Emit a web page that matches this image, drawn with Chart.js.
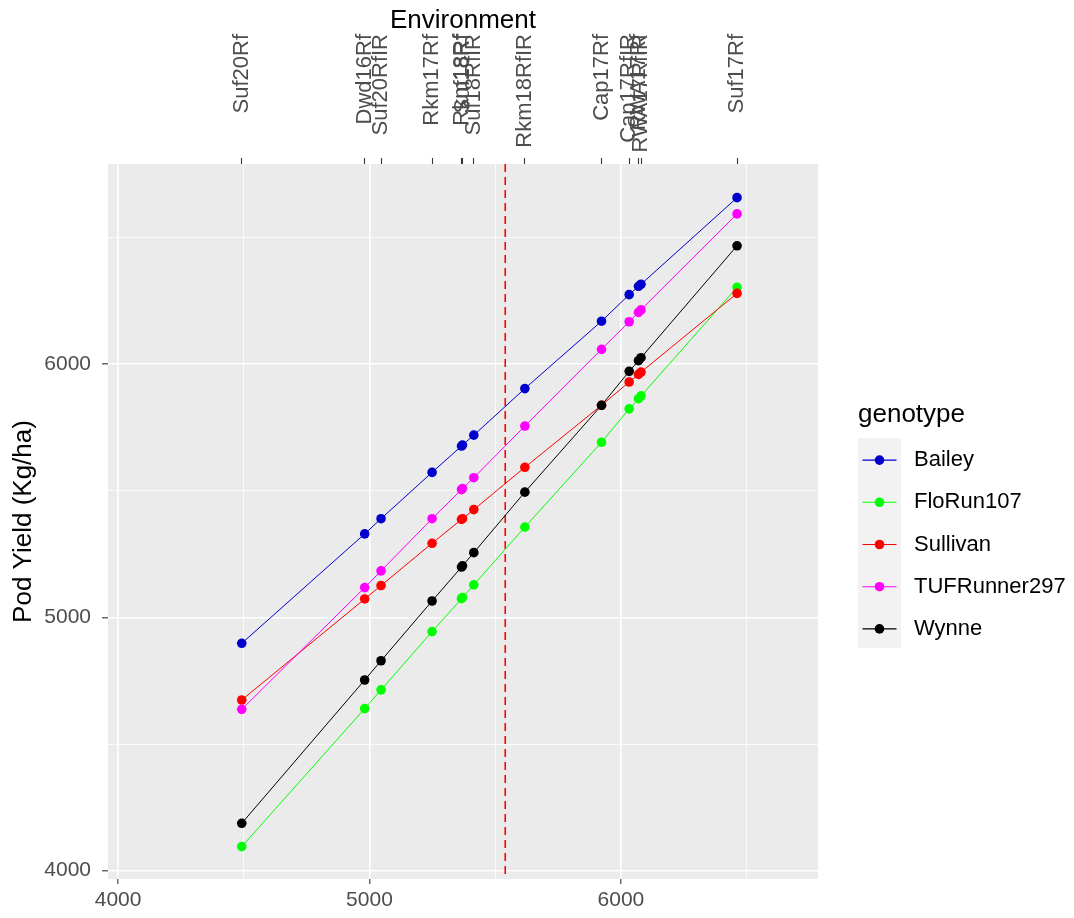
<!DOCTYPE html>
<html>
<head>
<meta charset="utf-8">
<script src="https://cdn.jsdelivr.net/npm/chart.js@4/dist/chart.umd.min.js"></script>
<style>
  html, body { margin: 0; padding: 0; background: #ffffff; }
  canvas { display: block; }
</style>
</head>
<body>
<canvas id="c" width="1074" height="918"></canvas>
<script>
// ---- data ----
const envLabels = ["Suf20Rf","Dwd16Rf","Suf20RfIR","Rkm17Rf","Rkm18Rf","Suf18Rf","Suf18RfIR","Rkm18RfIR","Cap17Rf","Cap17RfIR","RWA17Rf","RWA17RfIR","Suf17Rf"];
const envX      = [4492, 4981, 5046, 5249, 5366, 5370, 5415, 5618, 5923, 6033, 6070, 6080, 6462];
const genotypes = ["Bailey","FloRun107","Sullivan","TUFRunner297","Wynne"];
const bailey    = [4898, 5330, 5390, 5573, 5677, 5681, 5720, 5904, 6170, 6275, 6308, 6316, 6658];
const floRun107 = [4095, 4640, 4714, 4944, 5074, 5079, 5129, 5357, 5692, 5824, 5864, 5875, 6304];
const sullivan  = [4674, 5073, 5126, 5293, 5387, 5390, 5426, 5593, 5838, 5930, 5960, 5969, 6280];
const tufRunner = [4637, 5118, 5184, 5390, 5505, 5509, 5552, 5756, 6059, 6168, 6205, 6215, 6594];
const wynne     = [4187, 4753, 4829, 5065, 5199, 5204, 5256, 5495, 5838, 5972, 6014, 6026, 6468];
const grandMean = 5540;
const xTickValues = [4000, 4500, 5000, 5500, 6000, 6500];
const yTickValues = [4000, 4500, 5000, 5500, 6000, 6500];
const xRange = [3960, 6784];
const yRange = [3967, 6791];

const seriesValues = [bailey, floRun107, sullivan, tufRunner, wynne];
const seriesColors = ["#0000CD", "#00FF00", "#FF0000", "#FF00FF", "#000000"];

const FONT = "'Liberation Sans', Arial, Helvetica, sans-serif";

const datasets = genotypes.map((g, gi) => ({
  label: g,
  data: envX.map((x, i) => ({ x: x, y: seriesValues[gi][i] })),
  borderColor: seriesColors[gi],
  backgroundColor: seriesColors[gi],
  pointBackgroundColor: seriesColors[gi],
  pointBorderWidth: 0,
  pointRadius: 4.8,
  borderWidth: 1.0,
  tension: 0,
  fill: false,
  order: genotypes.length - gi
}));

const isMajor = v => v % 1000 === 0;

const panelBg = {
  id: 'panelBg',
  beforeDraw(chart) {
    const { ctx, chartArea: a } = chart;
    ctx.save();
    ctx.fillStyle = '#EBEBEB';
    ctx.fillRect(a.left, a.top, a.right - a.left, a.bottom - a.top);
    ctx.restore();
  }
};

const meanLine = {
  id: 'meanLine',
  beforeDatasetsDraw(chart) {
    const { ctx, chartArea: a } = chart;
    const px = chart.scales.x.getPixelForValue(grandMean);
    ctx.save();
    ctx.strokeStyle = '#FF0000';
    ctx.lineWidth = 1.6;
    ctx.setLineDash([8, 5]);
    ctx.beginPath();
    ctx.moveTo(px, a.top);
    ctx.lineTo(px, a.bottom);
    ctx.stroke();
    ctx.restore();
  }
};

const topLabels = {
  id: 'topLabels',
  afterDraw(chart) {
    const { ctx } = chart;
    const s = chart.scales.x2;
    ctx.save();
    ctx.fillStyle = '#4D4D4D';
    ctx.font = "22px " + FONT;
    ctx.textAlign = 'right';
    ctx.textBaseline = 'middle';
    envLabels.forEach((lab, i) => {
      const px = s.getPixelForValue(envX[i]);
      ctx.save();
      ctx.translate(px, 34);
      ctx.rotate(-Math.PI / 2);
      ctx.fillText(lab, 0, 0);
      ctx.restore();
    });
    ctx.restore();
  }
};

const ggLegend = {
  id: 'ggLegend',
  afterDraw(chart) {
    const { ctx } = chart;
    const x0 = 858, keyW = 43, keyTop = 438, keyH = 42.2;
    ctx.save();
    ctx.fillStyle = '#000000';
    ctx.font = "26px " + FONT;
    ctx.textAlign = 'left';
    ctx.textBaseline = 'alphabetic';
    ctx.fillText('genotype', x0, 422);
    const ds = chart.data.datasets;
    ctx.fillStyle = '#F2F2F2';
    ctx.fillRect(x0, keyTop, keyW, keyH * ds.length - 1);
    ds.forEach((d, i) => {
      const cy = keyTop + keyH * i + keyH / 2 + 1;
      ctx.strokeStyle = d.borderColor;
      ctx.lineWidth = 1.1;
      ctx.beginPath();
      ctx.moveTo(x0 + 4.5, cy);
      ctx.lineTo(x0 + keyW - 4.5, cy);
      ctx.stroke();
      ctx.fillStyle = d.borderColor;
      ctx.beginPath();
      ctx.arc(x0 + keyW / 2, cy, 4.8, 0, Math.PI * 2);
      ctx.fill();
      ctx.fillStyle = '#000000';
      ctx.font = "22px " + FONT;
      ctx.textBaseline = 'middle';
      ctx.fillText(d.label, 914, cy);
    });
    ctx.restore();
  }
};

new Chart(document.getElementById('c'), {
  type: 'line',
  data: { datasets },
  plugins: [panelBg, meanLine, topLabels, ggLegend],
  options: {
    responsive: false,
    devicePixelRatio: 1,
    animation: false,
    events: [],
    layout: { padding: { left: 0, right: 256, top: 0, bottom: 0 } },
    plugins: { legend: { display: false }, tooltip: { enabled: false }, title: { display: false } },
    scales: {
      x: {
        type: 'linear', position: 'bottom', min: xRange[0], max: xRange[1],
        afterBuildTicks: s => { s.ticks = xTickValues.map(v => ({ value: v })); },
        afterFit: s => { s.height = 39; },
        border: { display: false },
        grid: {
          color: '#FFFFFF',
          lineWidth: c => (c.tick && isMajor(c.tick.value)) ? 1.6 : 0.8,
          tickColor: c => (c.tick && isMajor(c.tick.value)) ? '#333333' : 'rgba(0,0,0,0)',
          tickLength: 5, tickWidth: 1.1
        },
        ticks: {
          autoSkip: false, maxRotation: 0, minRotation: 0, padding: 4,
          color: '#4D4D4D', font: { family: FONT, size: 21 },
          callback: v => isMajor(v) ? String(v) : ''
        }
      },
      x2: {
        type: 'linear', position: 'top', min: xRange[0], max: xRange[1],
        afterBuildTicks: s => { s.ticks = envX.map(v => ({ value: v })); },
        afterFit: s => { s.height = 164; },
        border: { display: false },
        grid: { drawOnChartArea: false, tickColor: '#333333', tickLength: 6, tickWidth: 1.1 },
        ticks: { display: false },
        title: { display: true, text: 'Environment', color: '#000000', font: { family: FONT, size: 26 }, padding: { top: 5, bottom: 0 } }
      },
      y: {
        type: 'linear', position: 'left', min: yRange[0], max: yRange[1],
        afterBuildTicks: s => { s.ticks = yTickValues.map(v => ({ value: v })); },
        afterFit: s => { s.width = 108; },
        border: { display: false },
        grid: {
          color: '#FFFFFF',
          lineWidth: c => (c.tick && isMajor(c.tick.value)) ? 1.6 : 0.8,
          tickColor: c => (c.tick && isMajor(c.tick.value)) ? '#333333' : 'rgba(0,0,0,0)',
          tickLength: 6, tickWidth: 1.1
        },
        ticks: {
          autoSkip: false, padding: 11,
          color: '#4D4D4D', font: { family: FONT, size: 21 },
          callback: v => isMajor(v) ? String(v) : ''
        },
        title: { display: true, text: 'Pod Yield (Kg/ha)', color: '#000000', font: { family: FONT, size: 26 }, padding: { top: 8, bottom: 0 } }
      }
    }
  }
});
</script>
</body>
</html>
